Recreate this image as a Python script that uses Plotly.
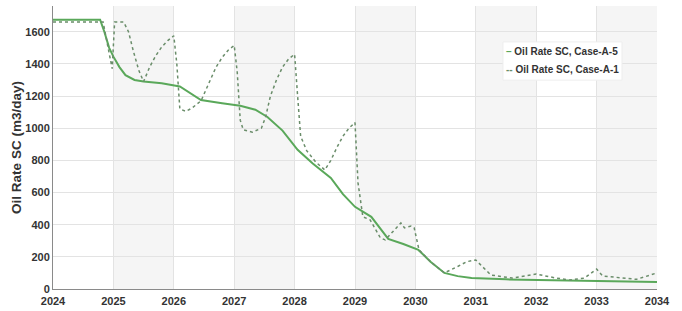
import plotly.graph_objects as go

# Case-A-5 (solid)
a5_t = [2024.0, 2024.78, 2024.85, 2024.93, 2025.0, 2025.1, 2025.2, 2025.35, 2025.5, 2025.8,
        2026.1, 2026.25, 2026.45, 2026.8, 2027.1, 2027.35, 2027.55, 2027.8, 2028.05, 2028.3,
        2028.6, 2028.8, 2029.0, 2029.27, 2029.55, 2029.8, 2030.05, 2030.25, 2030.48, 2030.7,
        2030.93, 2031.5, 2032.0, 2033.0, 2034.0]
a5_v = [1675, 1675, 1600, 1500, 1445, 1380, 1330, 1300, 1290, 1280,
        1260, 1225, 1175, 1155, 1140, 1115, 1070, 985, 866, 780,
        691, 590, 511, 449, 312, 280, 243, 170, 100, 80,
        68, 60, 56, 50, 44]

# Case-A-1 (dotted)
a1_t = [2024.0, 2024.83, 2024.98, 2025.0, 2025.02, 2025.17, 2025.25, 2025.33, 2025.42, 2025.5,
        2025.6, 2025.7, 2025.8, 2025.9, 2026.0, 2026.05, 2026.1, 2026.2, 2026.3, 2026.45,
        2026.6, 2026.7, 2026.8, 2026.9, 2027.0, 2027.05, 2027.1, 2027.15, 2027.3, 2027.45,
        2027.52, 2027.6, 2027.7, 2027.8, 2027.9, 2028.0, 2028.05, 2028.1, 2028.2, 2028.35,
        2028.5, 2028.6, 2028.7, 2028.8, 2028.9, 2029.0, 2029.05, 2029.13, 2029.25, 2029.42,
        2029.5, 2029.76, 2029.82, 2029.93, 2029.98, 2030.06, 2030.25, 2030.48, 2030.7, 2030.85,
        2031.0, 2031.25, 2031.6, 2031.8, 2032.0, 2032.3, 2032.55, 2032.8, 2033.0, 2033.1,
        2033.58, 2033.66, 2034.0]
a1_v = [1660, 1660, 1370, 1520, 1660, 1660, 1600, 1480, 1360, 1290,
        1380, 1450, 1505, 1545, 1575, 1400, 1120, 1105, 1125, 1170,
        1300, 1380, 1440, 1485, 1515, 1350, 1050, 990, 975, 1000,
        1070, 1200, 1300, 1380, 1430, 1460, 1200, 950, 860, 790,
        740, 800, 880, 950, 1000, 1035, 660, 449, 430, 318,
        305, 411, 380, 392, 380, 243, 170, 100, 140, 170,
        180, 87, 68, 80, 93, 70, 56, 68, 124, 81,
        62, 60, 100]

years = list(range(2024, 2035))
y_ticks = list(range(0, 1601, 200))
names = ["Oil Rate SC, Case-A-5", "Oil Rate SC, Case-A-1"]

FONT = "Liberation Sans, Arial, sans-serif"
C_SOLID = "#5aa85a"
C_DOT = "#6a8d6a"

fig = go.Figure()
fig.add_trace(go.Scatter(x=a5_t, y=a5_v, mode="lines", name=names[0],
                         line=dict(color=C_SOLID, width=2)))
fig.add_trace(go.Scatter(x=a1_t, y=a1_v, mode="lines", name=names[1],
                         line=dict(color=C_DOT, width=1.5, dash="dot")))

# alternating shaded year bands
for y in years[1::2]:
    if y < years[-1]:
        fig.add_shape(type="rect", xref="x", yref="paper", x0=y, x1=y + 1, y0=0, y1=1,
                      fillcolor="#f5f5f5", line_width=0, layer="below")

# legend box (compact, like the reference)
fig.add_shape(type="rect", xref="paper", yref="paper", x0=0.745, x1=0.942, y0=0.738, y1=0.873,
              fillcolor="white", line=dict(color="#eeeeee", width=1), layer="above")
fig.add_annotation(xref="paper", yref="paper", x=0.7467, y=0.8375, xanchor="left", yanchor="middle",
                   showarrow=False,
                   text=f"<span style='color:{C_SOLID}'>–</span> {names[0]}",
                   font=dict(family=FONT, size=10, color="#333333", weight="bold"))
fig.add_annotation(xref="paper", yref="paper", x=0.7467, y=0.774, xanchor="left", yanchor="middle",
                   showarrow=False,
                   text=f"<span style='color:{C_DOT}'>--</span> {names[1]}",
                   font=dict(family=FONT, size=10, color="#333333", weight="bold"))

fig.update_layout(
    width=682, height=311,
    margin=dict(l=53, r=25, t=6, b=22),
    paper_bgcolor="white", plot_bgcolor="white",
    font=dict(family=FONT, size=11, color="#333333", weight="bold"),
    showlegend=False,
)
fig.update_xaxes(range=[2024, 2034], tickvals=years, ticktext=[str(y) for y in years],
                 showgrid=True, gridcolor="#e3e3e3", gridwidth=1,
                 showline=True, linecolor="#8a8a8a", linewidth=1, zeroline=False,
                 ticks="", tickfont=dict(size=11), automargin=False, ticklabelstandoff=2)
fig.update_yaxes(range=[0, 1760], tickvals=y_ticks,
                 showgrid=True, gridcolor="#e3e3e3", gridwidth=1,
                 showline=True, linecolor="#8a8a8a", linewidth=1, zeroline=False,
                 ticks="", tickfont=dict(size=11), automargin=False,
                 title=dict(text="Oil Rate SC (m3/day)", standoff=0,
                            font=dict(size=13.5, weight="bold")))

fig.write_html("out.html", config={"displayModeBar": False},
               post_script="document.body.style.margin='0px';")
